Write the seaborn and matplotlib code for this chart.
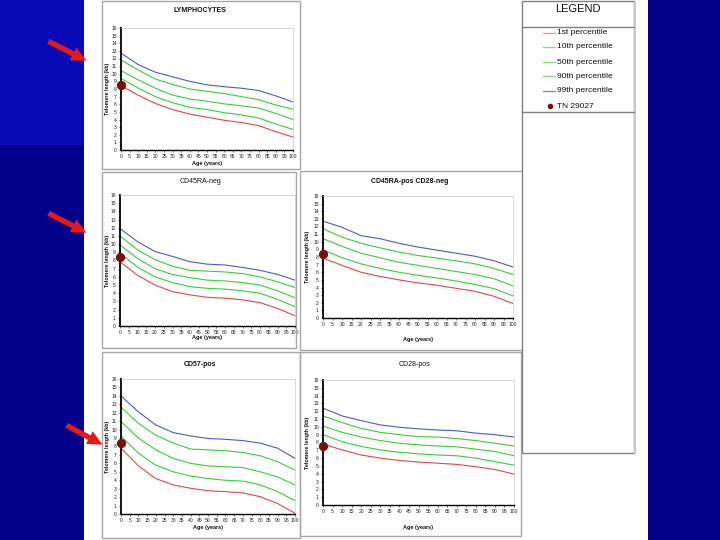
import numpy as np
import pandas as pd
import matplotlib
matplotlib.use("Agg")
import matplotlib.pyplot as plt
import seaborn as sns
from matplotlib.patches import Rectangle, FancyArrowPatch
from matplotlib.lines import Line2D

sns.set_theme(style="white")
plt.rcParams['font.family'] = ['Liberation Sans', 'DejaVu Sans']

ages = [0, 10, 20, 30, 40, 50, 60, 70, 80, 90, 100]
pct_names = ["1st percentile", "10th percentile", "50th percentile", "90th percentile", "99th percentile"]
subject_label = "TN 29027"

lymph_p1 = [8.4, 7.2, 6.1, 5.3, 4.7, 4.3, 3.9, 3.6, 3.2, 2.4, 1.7]
lymph_p10 = [9.4, 8.1, 7.0, 6.2, 5.6, 5.3, 4.9, 4.6, 4.2, 3.4, 2.7]
lymph_p50 = [10.4, 9.2, 8.1, 7.2, 6.7, 6.4, 6.05, 5.8, 5.5, 4.8, 4.0]
lymph_p90 = [11.8, 10.5, 9.3, 8.6, 8.0, 7.7, 7.4, 7.0, 6.6, 5.9, 5.35]
lymph_p99 = [12.7, 11.2, 10.2, 9.6, 9.0, 8.55, 8.3, 8.1, 7.8, 7.1, 6.3]
lymph_dot = 8.5

cd45neg_p1 = [7.85, 6.2, 5.0, 4.2, 3.8, 3.5, 3.4, 3.2, 2.85, 2.15, 1.25]
cd45neg_p10 = [8.9, 7.2, 6.0, 5.3, 4.8, 4.6, 4.5, 4.3, 4.0, 3.25, 2.35]
cd45neg_p50 = [9.9, 8.25, 7.0, 6.3, 5.9, 5.6, 5.5, 5.3, 5.0, 4.3, 3.45]
cd45neg_p90 = [11.0, 9.3, 8.1, 7.3, 6.8, 6.7, 6.6, 6.4, 6.0, 5.4, 4.7]
cd45neg_p99 = [11.9, 10.3, 9.1, 8.5, 7.85, 7.55, 7.45, 7.15, 6.8, 6.3, 5.6]
cd45neg_dot = 8.4

cd28neg_p1 = [7.85, 6.9, 6.0, 5.45, 5.0, 4.6, 4.3, 3.9, 3.5, 2.85, 1.9]
cd28neg_p10 = [8.95, 7.9, 7.1, 6.5, 6.0, 5.6, 5.25, 4.85, 4.4, 3.85, 2.9]
cd28neg_p50 = [10.4, 9.4, 8.5, 7.9, 7.3, 6.9, 6.5, 6.1, 5.7, 5.15, 4.2]
cd28neg_p90 = [11.7, 10.6, 9.8, 9.2, 8.65, 8.2, 7.85, 7.5, 7.1, 6.5, 5.7]
cd28neg_p99 = [12.7, 11.9, 10.8, 10.4, 9.8, 9.3, 8.9, 8.5, 8.1, 7.5, 6.7]
cd28neg_dot = 8.4

cd57_p1 = [7.8, 5.7, 4.2, 3.45, 3.05, 2.75, 2.65, 2.5, 2.05, 1.25, 0.1]
cd57_p10 = [9.25, 7.2, 5.8, 5.0, 4.5, 4.2, 4.0, 3.9, 3.45, 2.65, 1.6]
cd57_p50 = [10.95, 9.0, 7.6, 6.6, 6.0, 5.7, 5.6, 5.5, 5.0, 4.4, 3.45]
cd57_p90 = [12.65, 10.75, 9.35, 8.4, 7.7, 7.6, 7.5, 7.3, 6.9, 6.2, 5.2]
cd57_p99 = [14.0, 12.1, 10.55, 9.65, 9.25, 8.95, 8.85, 8.7, 8.4, 7.8, 6.6]
cd57_dot = 8.45

cd28pos_p1 = [7.8, 7.05, 6.4, 6.0, 5.7, 5.5, 5.35, 5.2, 4.9, 4.55, 3.95]
cd28pos_p10 = [9.0, 8.1, 7.5, 7.05, 6.75, 6.55, 6.4, 6.3, 6.0, 5.55, 5.1]
cd28pos_p50 = [10.1, 9.3, 8.7, 8.25, 7.9, 7.7, 7.55, 7.45, 7.15, 6.85, 6.3]
cd28pos_p90 = [11.4, 10.55, 9.8, 9.3, 9.0, 8.75, 8.7, 8.5, 8.25, 7.9, 7.55]
cd28pos_p99 = [12.4, 11.4, 10.8, 10.25, 9.95, 9.75, 9.6, 9.5, 9.2, 9.0, 8.7]
cd28pos_dot = 7.6

titles = ["LYMPHOCYTES", "CD45RA-neg", "CD45RA-pos CD28-neg", "CD57-pos", "CD28-pos"]
title_bold = [True, False, True, True, False]
y_label = "Telomere length (kb)"
x_label = "Age (years)"
y_ticks = list(range(0, 17))
x_ticks = list(range(0, 101, 5))

panels_data = [
    [lymph_p1, lymph_p10, lymph_p50, lymph_p90, lymph_p99, lymph_dot],
    [cd45neg_p1, cd45neg_p10, cd45neg_p50, cd45neg_p90, cd45neg_p99, cd45neg_dot],
    [cd28neg_p1, cd28neg_p10, cd28neg_p50, cd28neg_p90, cd28neg_p99, cd28neg_dot],
    [cd57_p1, cd57_p10, cd57_p50, cd57_p90, cd57_p99, cd57_dot],
    [cd28pos_p1, cd28pos_p10, cd28pos_p50, cd28pos_p90, cd28pos_p99, cd28pos_dot],
]

colors = {"1st percentile": "#e04848", "10th percentile": "#3ccc3c", "50th percentile": "#3ccc3c",
          "90th percentile": "#3ccc3c", "99th percentile": "#4a5cc4"}
legend_colors = ["#e89a9a", "#8ada8a", "#8ada8a", "#8ada8a", "#8090b0"]
dot_color = "#7a0e0e"

W, H = 720, 540
fig = plt.figure(figsize=(7.2, 5.4), dpi=100, facecolor="white")

def frect(x0, y0, x1, y1, **kw):
    r = Rectangle((x0 / W, 1 - y1 / H), (x1 - x0) / W, (y1 - y0) / H, transform=fig.transFigure, **kw)
    fig.patches.append(r)
    return r

# slide background
frect(0, 0, 84, 145, facecolor="#0a0ab4", edgecolor="none", zorder=0)
frect(0, 145, 84, 540, facecolor="#00008a", edgecolor="none", zorder=0)
frect(648, 0, 720, 540, facecolor="#00008a", edgecolor="none", zorder=0)

# panel boxes
box_col = "#a8a8a8"
frect(102, 1, 300, 169, facecolor="none", edgecolor=box_col, lw=1.0)
frect(102, 172, 296, 348, facecolor="none", edgecolor=box_col, lw=1.0)
frect(300, 171, 524, 350, facecolor="none", edgecolor=box_col, lw=1.0)
frect(102, 352, 300, 538, facecolor="none", edgecolor=box_col, lw=1.0)
frect(300, 352, 521, 536, facecolor="none", edgecolor=box_col, lw=1.0)

# axes positions in pixels: x0, y0(top), x1, y1(bottom)
ax_px = [(121, 28, 293, 150), (120, 195, 295, 326), (323, 196, 513, 318),
         (121, 379, 295, 514), (323, 380, 514, 505)]
title_pos = [(200, 10), (200, 181), (410, 181), (200, 365), (415, 365)]
ylabel_x = [108, 108, 307, 108, 307]
xlabel_y = [163, 338, 339, 528, 528]

for i, (pos, vals) in enumerate(zip(ax_px, panels_data)):
    x0, y0, x1, y1 = pos
    ax = fig.add_axes([x0 / W, 1 - y1 / H, (x1 - x0) / W, (y1 - y0) / H])
    rows = []
    for name, series in zip(pct_names, vals[:5]):
        for a, v in zip(ages, series):
            rows.append({"age": a, "tl": v, "pct": name})
    df = pd.DataFrame(rows)
    sns.lineplot(data=df, x="age", y="tl", hue="pct", palette=colors, ax=ax,
                 legend=False, linewidth=0.8)
    ax.scatter([0], [vals[5]], s=32, color=dot_color, zorder=5, clip_on=False)
    ax.set_xlim(0, 100)
    ax.set_ylim(0, 16)
    ax.set_xticks(x_ticks)
    ax.set_yticks(y_ticks)
    ax.tick_params(axis="both", labelsize=3.6, length=1.5, width=0.5, pad=1.5,
                   colors="#222222", left=True, bottom=True)
    ax.set_xlabel("")
    ax.set_ylabel("")
    ax.spines["left"].set_color("black")
    ax.spines["left"].set_linewidth(1.3)
    ax.spines["bottom"].set_color("black")
    ax.spines["bottom"].set_linewidth(1.0)
    ax.spines["top"].set_color("#cccccc")
    ax.spines["top"].set_linewidth(0.5)
    ax.spines["right"].set_color("#cccccc")
    ax.spines["right"].set_linewidth(0.5)
    ax.set_facecolor("white")
    tx, ty = title_pos[i]
    fig.text(tx / W, 1 - ty / H, titles[i], ha="center", va="center", fontsize=5,
             fontweight="bold" if title_bold[i] else "normal", color="#111111")
    fig.text(ylabel_x[i] / W, 1 - ((y0 + y1) / 2) / H, y_label, rotation=90, ha="center",
             va="center", fontsize=3.8, fontweight="bold", color="#111111")
    fig.text(((x0 + x1) / 2) / W, 1 - xlabel_y[i] / H, x_label, ha="center", va="center",
             fontsize=4, fontweight="bold", color="#111111")

# legend panel
frect(522, 1, 634, 453, facecolor="white", edgecolor="#808080", lw=1.0)
frect(634, 2, 636, 454, facecolor="#c8c8c8", edgecolor="none")
fig.add_artist(Line2D([522 / W, 634 / W], [1 - 27 / H, 1 - 27 / H], color="#808080", lw=1.0))
fig.add_artist(Line2D([522 / W, 634 / W], [1 - 112 / H, 1 - 112 / H], color="#808080", lw=1.0))
fig.text(578 / W, 1 - 9 / H, "LEGEND", ha="center", va="center", fontsize=8, color="#111111")
leg_y = [33, 47, 62, 76, 91]
for name, c, yy in zip(pct_names, legend_colors, leg_y):
    fig.add_artist(Line2D([543 / W, 555 / W], [1 - yy / H, 1 - yy / H], color=c, lw=1.0))
    fig.text(557 / W, 1 - yy / H, name, ha="left", va="center", fontsize=6, color="#111111")
fig.add_artist(Line2D([550 / W], [1 - 106 / H], marker="o", markersize=3, color=dot_color, lw=0))
fig.text(557 / W, 1 - 106 / H, subject_label, ha="left", va="center", fontsize=6, color="#111111")

# red arrows
arrows = [((46, 40), (89, 62)), ((46, 212), (89, 234)), ((64, 424), (105, 446))]
for (ax0, ay0), (ax1, ay1) in arrows:
    arr = FancyArrowPatch((ax0 / W, 1 - ay0 / H), (ax1 / W, 1 - ay1 / H), transform=fig.transFigure,
                          arrowstyle="simple,head_length=0.9,head_width=0.85,tail_width=0.32",
                          mutation_scale=12, color="#e81818", lw=0, zorder=10)
    fig.patches.append(arr)

fig.savefig("out.png", dpi=100, facecolor="white")
